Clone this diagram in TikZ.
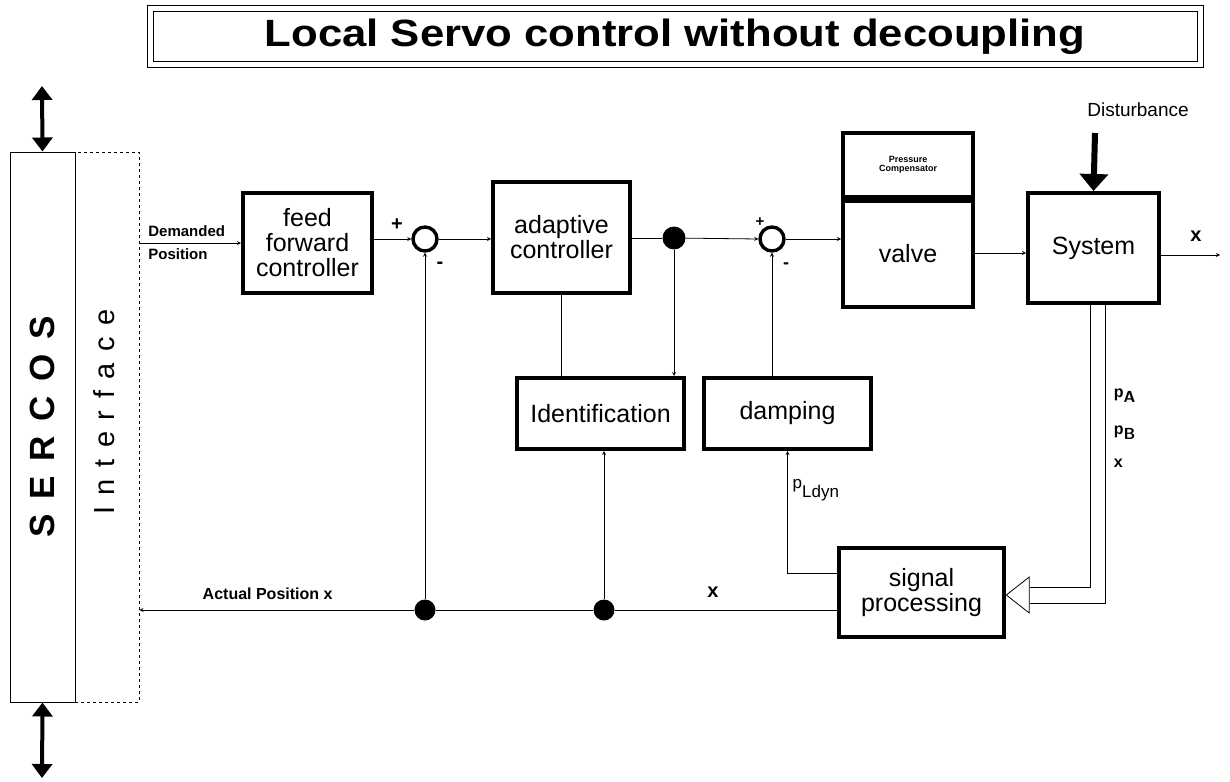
\documentclass[tikz,border=0pt]{standalone}
\usepackage{fontspec}
\setmainfont{Liberation Sans}
\usepackage{tikz}
\usetikzlibrary{shapes.geometric,positioning,arrows,arrows.meta}

\newcommand{\fsz}[1]{\fontsize{#1}{#1}\selectfont}

\begin{document}
\begin{tikzpicture}[
		x=1pt,y=-1pt,
		->,>=stealth,
		line width=0.8pt,
		block/.style={
			draw=black,
			line width=4pt,
			rectangle,
			align=center,
			inner sep=2pt,
			font=\fsz{25}
		},
		sumpt/.style={circle, draw=black, line width=3.4pt, minimum size=24pt, inner sep=0pt},
		tap/.style={circle, fill=black, minimum size=21pt, inner sep=0pt},
		lbl/.style={font=\bfseries\fsz{15}, inner sep=1pt},
		bigarrow/.style={line width=4pt, {Triangle[length=14pt,width=20pt]}-{Triangle[length=14pt,width=20pt]}}
		]
		\useasboundingbox (0,0) rectangle (1230,781);

		% Title
		\node[draw=black, double, double distance=5pt, line width=1pt,
			minimum width=1050pt, minimum height=56pt, font=\bfseries\fsz{38}, -]
			(title) at (675,37) {\raisebox{-3pt}{\scalebox{1.15}[1]{Local Servo control without decoupling}}};

		% Bus interface
		\node[draw=black, line width=1pt, minimum width=65pt, minimum height=550pt, -] (sercos) at (42.5,427) {};
		\node[draw=black, dashed, line width=0.8pt, minimum width=64pt, minimum height=550pt, -] (iface) at (107,427) {};
		\node[rotate=90, font=\bfseries\fsz{35}] (sercostxt) at (sercos) {\addfontfeature{LetterSpace=42}SERCOS};
		\node[rotate=90, font=\fsz{29}] (ifacetxt) at (104,412) {\addfontfeature{LetterSpace=40}Interface};
		\draw[bigarrow] (42,86) -- (sercos.north);
		\draw[bigarrow] (sercos.south) -- (42,778);

		% Blocks
		\node[block, minimum width=129pt, minimum height=100pt] (ffc) at (307.5,243) {feed\\forward\\controller};
		\node[sumpt] (sum1) at (425,239) {};
		\node[block, minimum width=137pt, minimum height=111pt] (adapt) at (561.5,237.5) {adaptive\\controller};
		\node[tap, minimum size=23pt] (dot1) at (674,238) {};
		\node[sumpt] (sum2) at (772,239) {};
		\node[block, minimum width=130pt, minimum height=64pt, font=\bfseries\fsz{9}] (comp) at (908,165) {Pressure\\Compensator};
		\node[block, minimum width=130pt, minimum height=106pt, below=0pt of comp] (valve) {valve};
		\node[block, minimum width=131pt, minimum height=110pt] (sys) at (1093.5,248) {System};
		\node[block, minimum width=167pt, minimum height=71pt] (ident) at (600.5,413.5) {Identification};
		\node[block, minimum width=167pt, minimum height=71pt] (damp) at (787.5,413.5) {damping};
		\node[block, minimum width=165pt, minimum height=89pt, font={\fontsize{25}{21}\selectfont}] (sigproc) at (921.5,592.5) {signal\\processing};
		\node[draw=black, line width=0.8pt, isosceles triangle, isosceles triangle stretches=true,
			shape border rotate=180, minimum height=23pt, minimum width=36pt, inner sep=0pt, -] (merge) at (1020.5,595) {};
		\node[tap, minimum size=21pt] (dot2) at (425,610) {};
		\node[tap, minimum size=21pt] (dot3) at (604,610) {};
		\coordinate (xout) at (1220,255);
		\coordinate (dist) at (1095,133);

		% Labels
		\node[lbl, anchor=south west] (demlbl) at (147,238) {Demanded};
		\node[lbl, anchor=north west] (poslbl) at (147,247) {Position};
		\node[font=\bfseries\fsz{20}] (plus1) at (397,225) {+};
		\node[font=\bfseries\fsz{20}] (minus1) at (440,265) {-};
		\node[font=\bfseries\fsz{15}] (plus2) at (760,222) {+};
		\node[font=\bfseries\fsz{18}] (minus2) at (786,266) {-};
		\node[font=\fsz{19}] (distlbl) at (1138,110) {Disturbance};
		\node[font=\bfseries\fsz{20}] (xlbl1) at (1196,236) {x};
		\node[font=\bfseries\fsz{16}, anchor=west] (pAlbl) at (1110,396) {p$_{\mathrm{\textsf{A}}}$};
		\node[font=\bfseries\fsz{16}, anchor=west] (pBlbl) at (1110,433) {p$_{\mathrm{\textsf{B}}}$};
		\node[font=\bfseries\fsz{16}, anchor=west] (xlbl2) at (1110,463) {x};
		\node[font=\fsz{17}, anchor=west] (pldyn) at (789,490) {p\raisebox{-9pt}{\fsz{17}Ldyn}};
		\node[font=\bfseries\fsz{16}, anchor=south west] (actlbl) at (199,603) {Actual Position x};
		\node[font=\bfseries\fsz{20}] (xlbl3) at (713,592) {x};

		% Forward path
		\draw (ffc.west -| iface.east) -- (ffc.west);
		\draw (ffc.east |- sum1) -- (sum1.west);
		\draw (sum1.east) -- (sum1 -| adapt.west);
		\draw[-] (adapt.east |- dot1) -- (dot1);
		\draw (dot1) -- (sum2.west);
		\draw (sum2.east) -- (sum2 -| valve.west);
		\draw (valve.east |- 0,253) -- (sys.west |- 0,253);
		\draw (sys.east |- xout) -- (xout);
		\draw[line width=6pt, -{Triangle[length=17pt,width=28pt]}] (dist) -- (sys.north);

		% Adaptation and damping
		\draw[-] (adapt.south) -- (adapt.south |- ident.north);
		\draw (dot1) -- (dot1 |- ident.north);
		\draw (sum2 |- damp.north) -- (sum2.south);
		\draw ([yshift=19.5pt]sigproc.west) -| (damp.south);

		% Feedback path
		\draw ([yshift=-17.5pt]sigproc.west) -- (dot3) -- (dot2) -- (dot2 -| iface.east);
		\draw (dot2) -- (sum1.south);
		\draw (dot3) -- (ident.south -| dot3);
		\draw[-] ([xshift=-3.5pt]sys.south) |- ([yshift=8pt]merge.east);
		\draw[-] ([xshift=11.5pt]sys.south) |- ([yshift=-8pt]merge.east);
	\end{tikzpicture}
\end{document}
